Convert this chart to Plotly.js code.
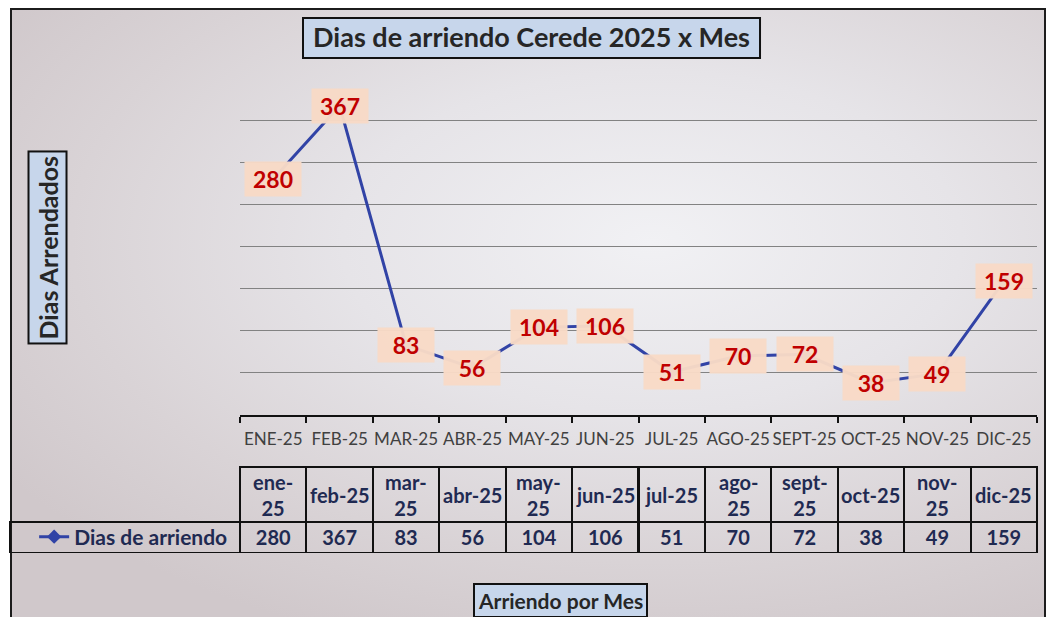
<!DOCTYPE html>
<html>
<head>
<meta charset="utf-8">
<script src="https://cdn.plot.ly/plotly-3.0.1.min.js"></script>
<style>
  html, body { margin: 0; padding: 0; background: #ffffff; width: 1050px; height: 617px; overflow: hidden; }
  #frame { position: absolute; left: 10px; top: 8px; width: 1032px; height: 610px;
    border: 2px solid #1c1c1c;
    background: radial-gradient(ellipse 75% 70% at 62% 38%, #f1f1f4 0%, #e6e4e8 40%, #d9d3d6 75%, #d0c8cb 100%); }
  #chart { position: absolute; left: 0; top: 0; width: 1050px; height: 617px; }
</style>
</head>
<body>
<div id="frame"></div>
<div id="chart"></div>
<script>
// ---- data ----
const months = ['ENE-25','FEB-25','MAR-25','ABR-25','MAY-25','JUN-25','JUL-25','AGO-25','SEPT-25','OCT-25','NOV-25','DIC-25'];
const tableLabels = ['ene-<br>25','feb-25','mar-<br>25','abr-25','may-<br>25','jun-25','jul-25','ago-<br>25','sept-<br>25','oct-25','nov-<br>25','dic-25'];
const values = [280, 367, 83, 56, 104, 106, 51, 70, 72, 38, 49, 159];
const seriesName = 'Dias de arriendo';
const chartTitle = 'Dias de arriendo Cerede 2025 x Mes';
const yTitle = 'Dias Arrendados';
const xTitle = 'Arriendo por Mes';

// ---- styles ----
const FONT = 'Lato, "Open Sans", sans-serif';
const lineColor = '#3143a6';
const navy = '#1f2a52';
const boxFill = '#c7d6eb';

const lineTrace = {
  type: 'scatter', mode: 'lines+markers',
  x: months, y: values, name: seriesName,
  line: { color: lineColor, width: 3 },
  marker: { symbol: 'diamond', size: 11, color: lineColor },
  hoverinfo: 'skip'
};

const colW = [230].concat(months.map(() => 797 / 12));
const tableTrace = {
  type: 'table',
  domain: { x: [0, 1], y: [0.1021, 0.2438] },
  columnwidth: colW,
  header: {
    values: [''].concat(months.map(() => '')),
    align: 'center', height: 55,
    line: { color: ['rgba(0,0,0,0)'].concat(months.map(() => '#111')), width: 2 },
    fill: { color: 'rgba(0,0,0,0)' },
    font: { family: FONT, size: 20, color: navy, weight: 'bold' }
  },
  cells: {
    values: [['']].concat(values.map(v => [v])),
    align: 'center', height: 31,
    line: { color: '#111', width: 2 },
    fill: { color: 'rgba(0,0,0,0)' },
    font: { family: FONT, size: 20, color: navy, weight: 'bold' }
  }
};

const labelAnns = values.map((v, i) => ({
  x: months[i], y: v, xref: 'x', yref: 'y', text: String(v), showarrow: false,
  font: { family: FONT, size: 23, color: '#c00000', weight: 'bold' },
  bgcolor: 'rgba(248,218,198,0.97)', borderpad: 3, width: 50, height: 28
}));

const headerAnns = tableLabels.map((t, i) => ({
  x: months[i], y: 0.1985, xref: 'x', yref: 'paper', text: t, showarrow: false,
  xanchor: 'center', yanchor: 'middle', align: 'center',
  font: { family: FONT, size: 20, color: navy, weight: 'bold' }
}));

const layout = {
  width: 1050, height: 617,
  margin: { l: 10, r: 13, t: 8, b: 2 },
  paper_bgcolor: 'rgba(0,0,0,0)', plot_bgcolor: 'rgba(0,0,0,0)',
  font: { family: FONT, color: '#262626' },
  title: {
    text: chartTitle, x: 0.5062, xanchor: 'center', y: 0.9384, yanchor: 'middle',
    font: { family: FONT, size: 27, color: '#262626', weight: 'bold' }
  },
  showlegend: true,
  legend: {
    x: 0.0235, xanchor: 'left', y: 0.1285, yanchor: 'middle',
    bgcolor: 'rgba(0,0,0,0)',
    font: { family: FONT, size: 21, color: navy, weight: 'bold' }
  },
  xaxis: {
    domain: [0.224, 1], type: 'category', range: [-0.5, 11.5],
    showline: true, linecolor: '#111', linewidth: 2,
    ticks: 'outside', tickson: 'boundaries', ticklen: 6, tickwidth: 2, tickcolor: '#111',
    tickangle: 0, ticklabelstandoff: 8,
    tickfont: { family: FONT, size: 17, color: '#404040' },
    showgrid: false, zeroline: false, fixedrange: true
  },
  yaxis: {
    domain: [0.3295, 0.8847], range: [0, 400], dtick: 50,
    showticklabels: false, ticks: '', showline: false, zeroline: false,
    gridcolor: '#828282', gridwidth: 1, fixedrange: true
  },
  shapes: [
    { type: 'rect', xref: 'paper', yref: 'paper', x0: 0.2853, x1: 0.7303, y0: 0.9176, y1: 0.9835,
      fillcolor: boxFill, line: { color: '#111', width: 2 }, layer: 'below' }
  ],
  annotations: labelAnns.concat(headerAnns, [
    { text: yTitle, xref: 'paper', yref: 'paper', x: 0.0365, y: 0.6063, textangle: -90,
      xanchor: 'center', yanchor: 'middle',
      showarrow: false, font: { family: FONT, size: 25, color: '#262626', weight: 'bold' },
      bgcolor: boxFill, bordercolor: '#111', borderwidth: 2, borderpad: 3 },
    { text: xTitle, xref: 'paper', yref: 'paper', x: 0.5365, y: 0.0247,
      xanchor: 'center', yanchor: 'middle',
      showarrow: false, font: { family: FONT, size: 21, color: '#262626', weight: 'bold' },
      bgcolor: boxFill, bordercolor: '#111', borderwidth: 2, borderpad: 3 }
  ])
};

Plotly.newPlot('chart', [lineTrace, tableTrace], layout, { displayModeBar: false, staticPlot: true });
</script>
</body>
</html>
